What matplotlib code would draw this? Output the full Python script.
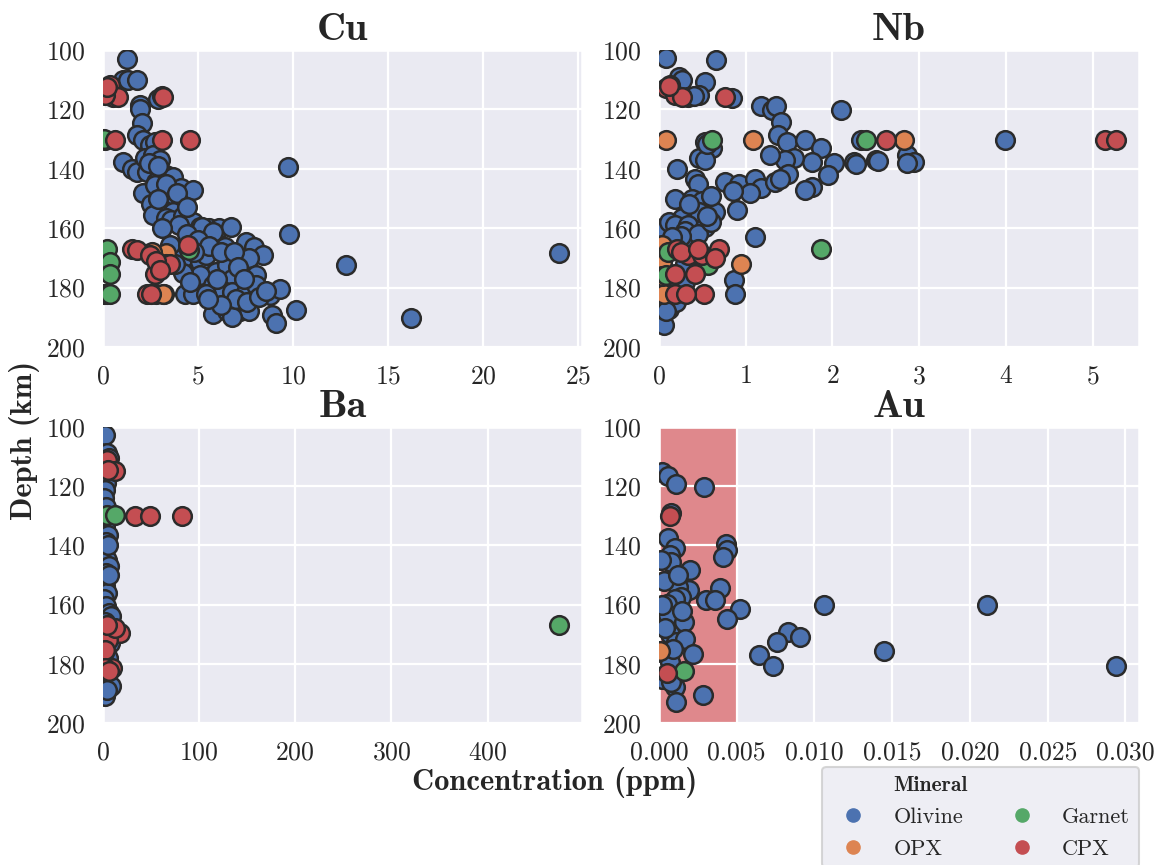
import numpy as np
import matplotlib
matplotlib.use('Agg')
import matplotlib.pyplot as plt
import seaborn as sns
from matplotlib.lines import Line2D
from matplotlib.ticker import MultipleLocator, FormatStrFormatter

sns.set_theme(context='talk', style='darkgrid')
plt.rcParams['font.family'] = ['cmr10', 'DejaVu Serif']
plt.rcParams['axes.formatter.use_mathtext'] = True

minerals = ['Olivine', 'OPX', 'Garnet', 'CPX']
colors = ['#4C72B0', '#DD8452', '#55A868', '#C44E52']

# (concentration, depth) pairs
cu_olivine = [(1.24, 103), (1.07, 110), (1.3, 110), (1.77, 110), (1.94, 118.5), (1.94, 120), (2.03, 124.7),
              (1.77, 128.7), (2.1, 130.3), (2.46, 132), (2.72, 131), (2.9, 116.5), (3.1, 115.5), (1.07, 137.6),
              (1.5, 140), (1.77, 141), (2.2, 136.5), (2.64, 135.4), (3.0, 137), (2.29, 141), (2.8, 144.4),
              (3.34, 142), (3.7, 142.7), (2.1, 148.3), (2.73, 145.5), (3.5, 151), (4.1, 146.6), (4.74, 147),
              (2.55, 152), (3.16, 154), (3.7, 154.5), (2.64, 155.6), (3.34, 156.7), (3.6, 157.3), (4.2, 156),
              (4.74, 158), (5.1, 159.6), (5.6, 160), (6.1, 160), (6.75, 159.6), (4.6, 161.8), (5.2, 159.6),
              (5.8, 161.2), (3.5, 165.7), (4.2, 170), (5.1, 171.3), (5.4, 169), (6.4, 166.3), (5.96, 174.7),
              (6.5, 172.5), (7.5, 164.6), (7.97, 166.3), (8.4, 169), (7.36, 171.3), (7.7, 170.2), (8.06, 175.8),
              (6.8, 177), (5.1, 175.8), (5.8, 179), (6.3, 181), (6.8, 181.5), (7.5, 181.5), (8.06, 179),
              (4.3, 182), (4.74, 182), (5.4, 182), (5.8, 189), (6.5, 188), (7.2, 188), (7.7, 188), (6.8, 190),
              (8.76, 182.6), (9.3, 180.4), (8.9, 189.3), (9.1, 192), (10.16, 187.6), (9.72, 139.3), (9.77, 161.8),
              (12.8, 172.5), (16.2, 190.3), (24.0, 168.3), (2.8, 182), (3.2, 182), (2.4, 138), (2.9, 139),
              (3.3, 145), (3.9, 148), (4.4, 153), (4.0, 159), (4.4, 162), (5.0, 164), (5.6, 166), (6.2, 168),
              (6.9, 168), (7.1, 173), (6.0, 177), (7.4, 177), (7.0, 184), (7.6, 185), (8.2, 183), (6.2, 186),
              (5.5, 184), (4.8, 168), (4.2, 175), (3.8, 172), (4.6, 178), (8.6, 181), (3.1, 160), (2.9, 150)]
cu_opx = [(3.16, 182), (3.34, 168.5), (2.6, 168), (0.05, 182)]
cu_garnet = [(0.1, 130.3), (0.2, 167), (0.37, 171.3), (0.37, 175.3), (0.2, 182), (0.37, 182), (4.5, 167.5),
             (0.05, 130)]
cu_cpx = [(0.37, 111.8), (0.54, 115.7), (0.8, 115.7), (0.1, 115), (3.16, 115.7), (0.63, 130.3), (3.08, 130.3),
          (4.56, 130.3), (1.5, 166.9), (1.77, 167.4), (2.46, 169), (2.73, 175.3), (3.34, 172), (3.5, 172),
          (4.48, 165.7), (2.29, 182), (2.55, 182), (2.8, 171), (3.0, 174), (0.2, 112.5)]

nb_olivine = [(0.08, 102.8), (0.66, 103.4), (0.23, 109), (0.26, 110), (0.53, 110.7), (0.46, 115.2), (0.34, 115.7),
              (0.84, 116.3), (0.4, 115.5), (1.18, 119), (1.3, 120.2), (1.35, 119), (1.41, 124.2), (2.1, 120.2),
              (1.37, 128.7), (1.47, 130.9), (1.68, 130.3), (1.87, 133.1), (1.76, 137.6), (1.56, 136.5),
              (1.45, 137), (1.28, 135.4), (2.02, 138.2), (2.25, 137.6), (2.27, 138.5), (2.5, 137), (2.86, 135.4),
              (2.94, 137.6), (2.86, 138.2), (2.52, 137.5), (0.53, 130.9), (0.61, 133.1), (0.46, 136.5),
              (0.53, 137), (0.55, 131.5), (0.21, 139.9), (0.42, 143.3), (0.45, 145), (0.76, 144.4), (0.92, 145),
              (1.11, 143.3), (1.18, 146.6), (1.34, 144.4), (1.49, 141.6), (1.76, 146), (1.95, 142.1),
              (1.68, 147.2), (1.05, 148), (0.85, 147.5), (1.4, 143.5), (0.19, 150), (0.38, 150), (0.5, 151),
              (0.65, 154.5), (0.9, 154), (0.27, 156.7), (0.46, 154.5), (0.35, 152), (0.6, 149), (1.11, 162.9),
              (0.04, 160), (0.11, 157.9), (0.19, 159), (0.34, 159), (0.53, 159.6), (0.08, 165.7), (0.19, 165.7),
              (0.42, 164.6), (0.5, 170.2), (0.04, 182.6), (0.11, 187.1), (0.06, 192.7), (0.3, 161), (0.45, 162),
              (0.25, 162.5), (0.15, 163), (0.6, 158), (0.55, 156), (0.86, 177.5), (0.88, 182), (0.3, 178),
              (0.2, 185), (0.08, 188), (0.15, 176), (0.3, 172), (3.99, 130.3), (2.33, 130.3)]
nb_opx = [(0.08, 130.3), (1.08, 130.3), (2.83, 130.3), (0.95, 172.1), (0.04, 165.7), (0.04, 171.3), (0.06, 182),
          (0.03, 176)]
nb_garnet = [(0.61, 130.3), (2.39, 130.3), (1.87, 167), (0.08, 175.8), (0.57, 172.5), (0.1, 168)]
nb_cpx = [(0.13, 111.8), (0.08, 112.9), (0.19, 115.2), (0.27, 115.7), (0.76, 115.7), (2.62, 130.3), (5.14, 130.3),
          (5.27, 130.3), (0.21, 166.9), (0.34, 169.1), (0.5, 169.1), (0.69, 166.9), (0.65, 170.2), (0.19, 175.3),
          (0.42, 175.3), (0.19, 182), (0.52, 182), (0.31, 182), (0.25, 168), (0.12, 112), (0.45, 167)]

ba_olivine = [(2, 102.7), (4, 108.9), (6, 110.5), (1, 115), (3, 119), (2, 121.2), (1.5, 124), (3, 127),
              (2, 133.6), (5, 136.5), (3, 139), (2, 143.7), (4, 145), (6, 147.1), (3, 149.3), (2, 153.8),
              (4, 156), (1, 158), (3, 160.6), (6, 162.8), (8, 164), (2, 166), (4, 171.8), (7, 173), (1, 176.3),
              (5, 178), (3, 185), (8, 187.5), (2, 190.9), (4, 189), (6, 150), (5, 140)]
ba_opx = [(1, 130), (1, 176)]
ba_garnet = [(3.8, 129.7), (12.4, 129.7), (474.5, 167)]
ba_cpx = [(3.8, 111), (12.4, 115), (5.5, 114.5), (33, 130), (48.6, 130), (82, 130), (7.2, 168.4), (17.6, 169.5),
          (5.5, 171.8), (2, 175.2), (9, 181.3), (2, 181.3), (12, 168), (4, 167), (6, 182.5)]

au_olivine = [(0.0002, 115.3), (0.0006, 116.5), (0.0011, 119.3), (0.0029, 120.2), (0.0008, 129), (0.0006, 137.5),
              (0.001, 140.9), (0.0007, 143.2), (0.0008, 145.5), (0.0043, 139.5), (0.0044, 141.5), (0.0041, 143.8),
              (0.002, 148.3), (0.0039, 154.3), (0.0019, 155), (0.0012, 154), (0.0014, 157.4), (0.001, 158),
              (0.0005, 159.7), (0.003, 158.5), (0.0036, 158.5), (0.0052, 161.6), (0.0106, 160), (0.0211, 160),
              (0.0006, 163.6), (0.0016, 165.9), (0.0007, 169.9), (0.0011, 172.7), (0.0017, 171.6), (0.0044, 165),
              (0.0083, 169.3), (0.0076, 172.7), (0.0091, 171), (0.0064, 177), (0.0073, 180.9), (0.0145, 175.7),
              (0.0294, 180.9), (0.0022, 176.7), (0.001, 188), (0.0011, 192.8), (0.0028, 190.7), (0.0001, 176),
              (0.0007, 179.5), (0.0001, 145), (0.0003, 152), (0.0002, 160), (0.0004, 168), (0.0002, 185),
              (0.0008, 186), (0.0012, 150), (0.0015, 162), (0.0009, 175)]
au_opx = [(0.00005, 175.7)]
au_garnet = [(0.0016, 182.5)]
au_cpx = [(0.0007, 130.1), (0.0005, 183)]

elements = ['Cu', 'Nb', 'Ba', 'Au']
detection_limits = [0.02, 0.004, 0.3, 0.005]
panel_data = [[cu_olivine, cu_opx, cu_garnet, cu_cpx],
              [nb_olivine, nb_opx, nb_garnet, nb_cpx],
              [ba_olivine, ba_opx, ba_garnet, ba_cpx],
              [au_olivine, au_opx, au_garnet, au_cpx]]

W, H = 1166, 865
fig = plt.figure(figsize=(W / 100, H / 100), dpi=100)

# axes boxes in pixels: left, top, right, bottom
boxes = [(103, 50, 582, 347), (659, 50, 1139, 347), (103, 427, 582, 723), (659, 427, 1139, 723)]

for el, dl, data, (l, t, r, b) in zip(elements, detection_limits, panel_data, boxes):
    ax = fig.add_axes([l / W, 1 - b / H, (r - l) / W, (b - t) / H])
    ax.axvspan(0, dl, color='tab:red', alpha=0.5, lw=0, zorder=0)
    for pts, c in zip(data, colors):
        pts = np.array(pts)
        ax.scatter(pts[:, 0], pts[:, 1], s=180, color=c, edgecolor='#2b2b2b', linewidth=1.8, zorder=3)
    ax.set_xlim(left=0)
    ax.set_ylim(200, 100)
    ax.yaxis.set_major_locator(MultipleLocator(20))
    ax.grid(True, color='white', lw=1.6)
    ax.tick_params(labelsize=18.5)
    ax.set_title(el, fontfamily='cmb10', fontsize=29, pad=7)
    if el == 'Au':
        ax.xaxis.set_major_locator(MultipleLocator(0.005))
        ax.xaxis.set_major_formatter(FormatStrFormatter('%.3f'))

fig.text(555 / W, 1 - 782 / H, 'Concentration (ppm)', ha='center', va='center',
         fontfamily='cmb10', fontsize=22)
fig.text(25 / W, 1 - 440 / H, 'Depth (km)', ha='center', va='center', rotation=90,
         fontfamily='cmb10', fontsize=22)

blank = Line2D([], [], linestyle='none')
handles = [blank] + [Line2D([], [], marker='o', linestyle='none', markersize=9.5, color=c)
                     for c in colors[:2]] + [blank] + \
          [Line2D([], [], marker='o', linestyle='none', markersize=9.5, color=c) for c in colors[2:]]
labels = ['Mineral', 'Olivine', 'OPX', '', 'Garnet', 'CPX']
leg = fig.legend(handles, labels, ncol=2, loc='upper right', bbox_to_anchor=(1139 / W, 1 - 767 / H),
                 borderaxespad=0, fontsize=16, columnspacing=1.45, labelspacing=0.55, frameon=True)
leg.get_texts()[0].set_fontfamily('cmb10')
leg.get_texts()[0].set_fontsize(15.5)

fig.savefig('out.png', dpi=100)
